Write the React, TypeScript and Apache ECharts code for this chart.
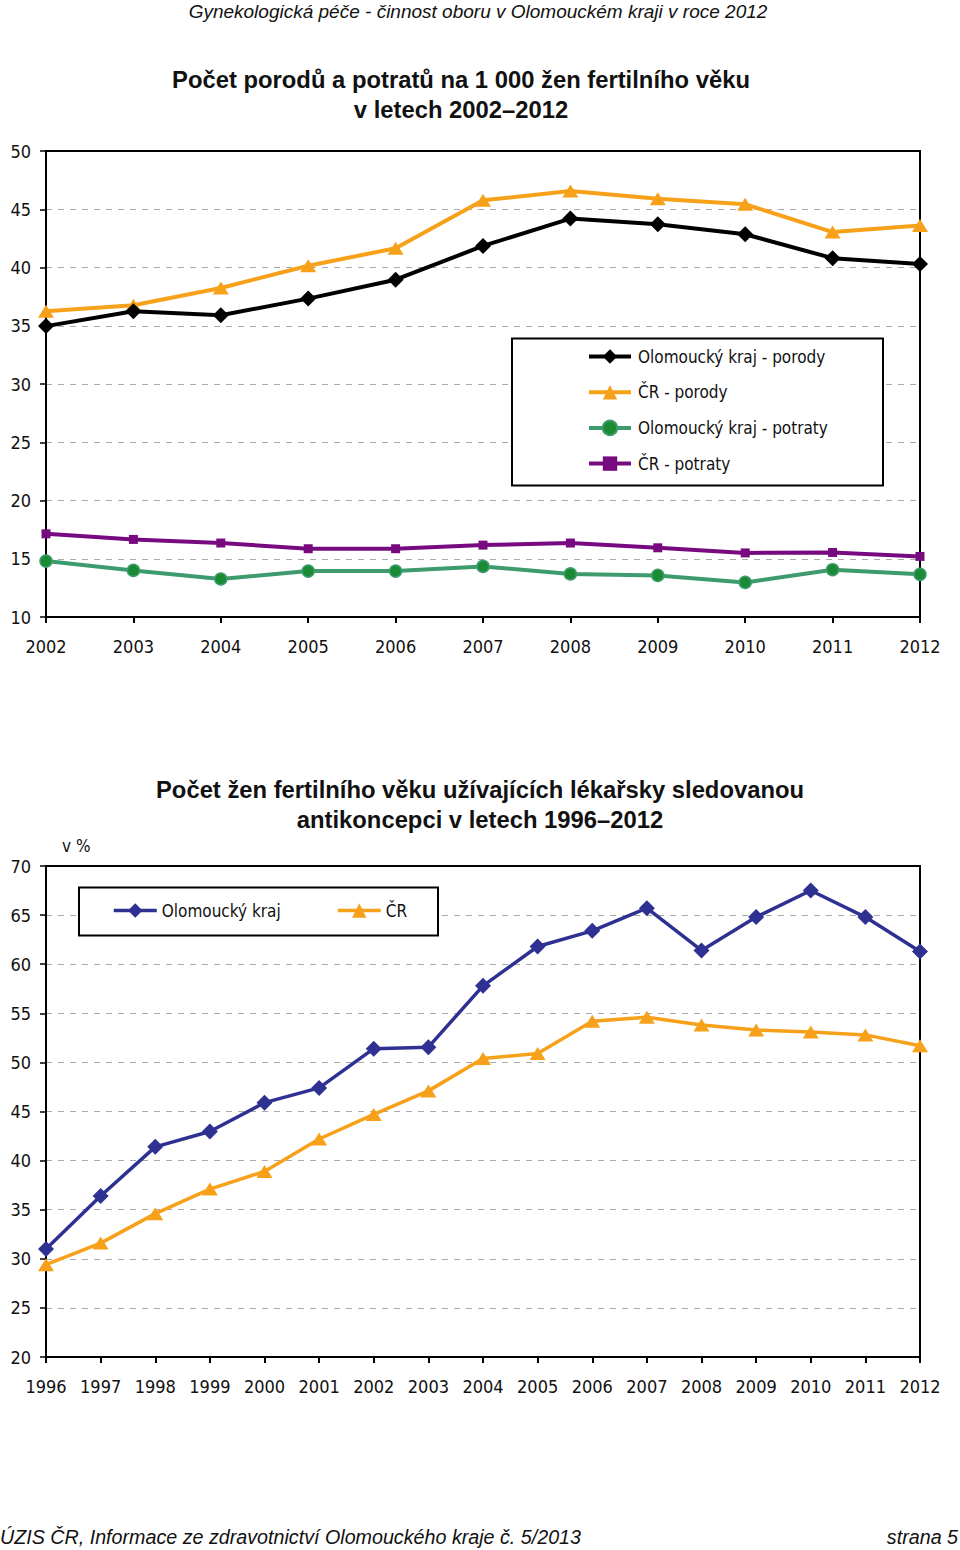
import React, { useEffect, useRef } from "react";
import * as echarts from "echarts";

const years1 = ["2002", "2003", "2004", "2005", "2006", "2007", "2008", "2009", "2010", "2011", "2012"];
const olkPorody = [34.97, 36.25, 35.9, 37.33, 38.95, 41.85, 44.2, 43.72, 42.85, 40.8, 40.3];
const crPorody = [36.25, 36.76, 38.24, 40.15, 41.65, 45.77, 46.56, 45.9, 45.43, 43.04, 43.6];
const olkPotraty = [14.8, 14.0, 13.26, 13.94, 13.94, 14.34, 13.7, 13.57, 12.97, 14.06, 13.66];
const crPotraty = [17.14, 16.66, 16.35, 15.86, 15.86, 16.17, 16.35, 15.94, 15.5, 15.54, 15.2];

const years2 = ["1996", "1997", "1998", "1999", "2000", "2001", "2002", "2003", "2004", "2005", "2006", "2007", "2008", "2009", "2010", "2011", "2012"];
const olkAnti = [31.0, 36.4, 41.4, 42.96, 45.9, 47.4, 51.4, 51.55, 57.8, 61.8, 63.4, 65.7, 61.4, 64.8, 67.5, 64.8, 61.3];
const crAnti = [29.4, 31.6, 34.6, 37.1, 38.9, 42.2, 44.7, 47.1, 50.4, 50.9, 54.2, 54.6, 53.8, 53.3, 53.1, 52.8, 51.7];

const NARROW = "'Liberation Sans Narrow', 'Arial Narrow', 'DejaVu Sans Condensed', sans-serif";
const SANS = "'Liberation Sans', Arial, sans-serif";

const BLACK = "#000000";
const ORANGE = "#F7A11A";
const GREEN_LINE = "#3D9B6E";
const GREEN_MARK = "#1A8A33";
const PURPLE = "#780A80";
const NAVY = "#2E3192";

function xAxisCfg(gridIndex: number, data: string[]) {
  return {
    type: "category",
    gridIndex,
    data,
    boundaryGap: false,
    axisLine: { show: true, lineStyle: { color: BLACK, width: 2 } },
    axisTick: { show: true, length: 6, lineStyle: { color: BLACK, width: 2 } },
    axisLabel: { color: "#111", fontFamily: NARROW, fontSize: 18, margin: 20, interval: 0 },
    splitLine: { show: false },
  };
}

function yAxisCfg(gridIndex: number, min: number, max: number) {
  return {
    type: "value",
    gridIndex,
    min,
    max,
    interval: 5,
    axisLine: { show: true, lineStyle: { color: BLACK, width: 2 } },
    axisTick: { show: true, length: 6, lineStyle: { color: BLACK, width: 1.5 } },
    axisLabel: { color: "#111", fontFamily: NARROW, fontSize: 18, margin: 15 },
    splitLine: { show: true, showMinLine: false, showMaxLine: false, lineStyle: { color: "#AAAAAA", width: 1, type: [6, 6] } },
  };
}

export default function App() {
  const ref = useRef<HTMLDivElement>(null);

  useEffect(() => {
    if (!ref.current) return;
    const chart = echarts.init(ref.current, null, { renderer: "svg" });
    const legendText = { fontFamily: NARROW, fontSize: 17, color: "#111" };
    const option: any = {
      animation: false,
      backgroundColor: "#ffffff",
      grid: [
        { left: 46, top: 151, width: 874, height: 466, show: true, borderColor: BLACK, borderWidth: 2, backgroundColor: "transparent" },
        { left: 46, top: 866, width: 874, height: 491, show: true, borderColor: BLACK, borderWidth: 2, backgroundColor: "transparent" },
      ],
      xAxis: [xAxisCfg(0, years1), xAxisCfg(1, years2)],
      yAxis: [yAxisCfg(0, 10, 50), yAxisCfg(1, 20, 70)],
      legend: [
        {
          left: 587,
          top: 348,
          orient: "vertical",
          itemWidth: 42,
          itemHeight: 18,
          itemGap: 18.7,
          padding: 0,
          lineStyle: { width: 4 },
          textStyle: { ...legendText, padding: [0, 0, 0, 2] },
          data: ["Olomoucký kraj - porody", "ČR - porody", "Olomoucký kraj - potraty", "ČR - potraty"],
        },
        {
          left: 112,
          top: 902,
          orient: "horizontal",
          itemWidth: 43,
          itemHeight: 18,
          padding: 0,
          lineStyle: { width: 3.5 },
          textStyle: legendText,
          data: ["Olomoucký kraj"],
        },
        {
          left: 336,
          top: 902,
          orient: "horizontal",
          itemWidth: 43,
          itemHeight: 18,
          padding: 0,
          lineStyle: { width: 3.5 },
          textStyle: legendText,
          data: ["ČR"],
        },
      ],
      graphic: [
        {
          type: "text",
          x: 478,
          y: 11,
          style: { text: "Gynekologická péče - činnost oboru v Olomouckém kraji v roce 2012", fontFamily: SANS, fontStyle: "italic", fontSize: 19, fill: "#111", textAlign: "center", textVerticalAlign: "middle" },
        },
        {
          type: "text",
          x: 461,
          y: 79,
          style: { text: "Počet porodů a potratů na 1 000 žen fertilního věku", fontFamily: SANS, fontWeight: "bold", fontSize: 23.8, fill: "#111", textAlign: "center", textVerticalAlign: "middle" },
        },
        {
          type: "text",
          x: 461,
          y: 109,
          style: { text: "v letech 2002–2012", fontFamily: SANS, fontWeight: "bold", fontSize: 23.8, fill: "#111", textAlign: "center", textVerticalAlign: "middle" },
        },
        {
          type: "text",
          x: 480,
          y: 789,
          style: { text: "Počet žen fertilního věku užívajících lékařsky sledovanou", fontFamily: SANS, fontWeight: "bold", fontSize: 23.8, fill: "#111", textAlign: "center", textVerticalAlign: "middle" },
        },
        {
          type: "text",
          x: 480,
          y: 819,
          style: { text: "antikoncepci v letech 1996–2012", fontFamily: SANS, fontWeight: "bold", fontSize: 23.8, fill: "#111", textAlign: "center", textVerticalAlign: "middle" },
        },
        {
          type: "text",
          x: 62,
          y: 846,
          style: { text: "v %", fontFamily: NARROW, fontSize: 17, fill: "#111", textAlign: "left", textVerticalAlign: "middle" },
        },
        {
          type: "rect",
          shape: { x: 512, y: 338.5, width: 371, height: 147 },
          style: { fill: "#ffffff", stroke: BLACK, lineWidth: 2 },
          z: 1,
        },
        {
          type: "rect",
          shape: { x: 79, y: 887.5, width: 359, height: 48 },
          style: { fill: "#ffffff", stroke: BLACK, lineWidth: 2 },
          z: 1,
        },
        {
          type: "line",
          shape: { x1: 46, y1: 151, x2: 920, y2: 151 },
          style: { stroke: BLACK, lineWidth: 2 },
          z: 1,
        },
        {
          type: "line",
          shape: { x1: 46, y1: 866, x2: 920, y2: 866 },
          style: { stroke: BLACK, lineWidth: 2 },
          z: 1,
        },
        {
          type: "text",
          x: 0,
          y: 1537,
          style: { text: "ÚZIS ČR, Informace ze zdravotnictví Olomouckého kraje č. 5/2013", fontFamily: SANS, fontStyle: "italic", fontSize: 19.7, fill: "#111", textAlign: "left", textVerticalAlign: "middle" },
        },
        {
          type: "text",
          x: 958,
          y: 1537,
          style: { text: "strana 5", fontFamily: SANS, fontStyle: "italic", fontSize: 19.7, fill: "#111", textAlign: "right", textVerticalAlign: "middle" },
        },
      ],
      series: [
        {
          name: "Olomoucký kraj - porody",
          type: "line",
          xAxisIndex: 0,
          yAxisIndex: 0,
          data: olkPorody,
          symbol: "diamond",
          symbolSize: 16,
          lineStyle: { color: BLACK, width: 4 },
          itemStyle: { color: BLACK },
          z: 5,
        },
        {
          name: "ČR - porody",
          type: "line",
          xAxisIndex: 0,
          yAxisIndex: 0,
          data: crPorody,
          symbol: "triangle",
          symbolSize: [16, 13],
          lineStyle: { color: ORANGE, width: 4 },
          itemStyle: { color: ORANGE },
          z: 4,
        },
        {
          name: "Olomoucký kraj - potraty",
          type: "line",
          xAxisIndex: 0,
          yAxisIndex: 0,
          data: olkPotraty,
          symbol: "circle",
          symbolSize: 12,
          lineStyle: { color: GREEN_LINE, width: 4 },
          itemStyle: { color: GREEN_MARK, borderColor: GREEN_LINE, borderWidth: 1.5 },
          z: 4,
        },
        {
          name: "ČR - potraty",
          type: "line",
          xAxisIndex: 0,
          yAxisIndex: 0,
          data: crPotraty,
          symbol: "rect",
          symbolSize: 9,
          lineStyle: { color: PURPLE, width: 4 },
          itemStyle: { color: PURPLE },
          z: 4,
        },
        {
          name: "Olomoucký kraj",
          type: "line",
          xAxisIndex: 1,
          yAxisIndex: 1,
          data: olkAnti,
          symbol: "diamond",
          symbolSize: 16,
          lineStyle: { color: NAVY, width: 3.5 },
          itemStyle: { color: NAVY },
          z: 5,
        },
        {
          name: "ČR",
          type: "line",
          xAxisIndex: 1,
          yAxisIndex: 1,
          data: crAnti,
          symbol: "triangle",
          symbolSize: [16, 13],
          lineStyle: { color: ORANGE, width: 3.5 },
          itemStyle: { color: ORANGE },
          z: 4,
        },
      ],
    };
    chart.setOption(option);
    return () => chart.dispose();
  }, []);

  return (
    <div
      ref={ref}
      style={{ position: "absolute", left: 0, top: 0, width: 960, height: 1550, background: "#fff" }}
    />
  );
}
